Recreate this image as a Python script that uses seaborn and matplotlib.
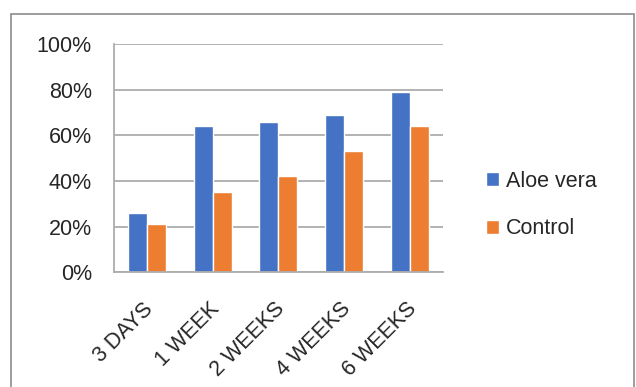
import numpy as np
import pandas as pd
import seaborn as sns
from matplotlib import pyplot as plt
from matplotlib.patches import Rectangle
from matplotlib.transforms import ScaledTranslation

periods = ["3 DAYS", "1 WEEK", "2 WEEKS", "4 WEEKS", "6 WEEKS"]
aloe_vera = [26, 64, 66, 69, 79]
control = [21, 35, 42, 53, 64]
series = ["Aloe vera", "Control"]
colors = ["#4472C4", "#ED7D31"]
yticks = [0, 20, 40, 60, 80, 100]

df = pd.DataFrame({
    "period": periods * 2,
    "value": aloe_vera + control,
    "group": [series[0]] * len(periods) + [series[1]] * len(periods),
})

sns.set_style("white")
plt.rcParams["font.family"] = ["Liberation Sans", "DejaVu Sans"]
grid_col = "#ADADAD"

fig = plt.figure(figsize=(6.36, 3.87), dpi=100)
ax = fig.add_axes([114 / 636, 1 - 272.3 / 387, (442.7 - 114) / 636, (272.3 - 44) / 387])

sns.barplot(data=df, x="period", y="value", hue="group", palette=colors,
            width=0.58, gap=0, saturation=1, ax=ax, legend=True)

ax.set_ylim(0, 100)
ax.set_xlim(-0.5, len(periods) - 0.5)
ax.set_yticks(yticks)
ax.set_yticklabels([f"{v}%" for v in yticks], fontsize=15.5, color="#262626")
ax.yaxis.grid(True, color=grid_col, linewidth=1.3)
ax.set_axisbelow(True)
ax.tick_params(axis="y", length=6, width=1.3, color=grid_col, pad=10)

# category boundary ticks like excel
ax.set_xticks(np.arange(len(periods)))
ax.set_xticklabels(periods, rotation=45, ha="right", rotation_mode="anchor",
                   fontsize=15.5, color="#262626")
ax.tick_params(axis="x", length=0, pad=19)
shift = ScaledTranslation(-4 / 100, 0, fig.dpi_scale_trans)
for lbl in ax.get_xticklabels():
    lbl.set_transform(lbl.get_transform() + shift)
ax.set_xticks(np.arange(-0.5, len(periods)), minor=True)
ax.tick_params(axis="x", which="minor", length=8, width=1.3, color=grid_col)
ax.set_xlabel("")
ax.set_ylabel("")

for s in ["top", "right"]:
    ax.spines[s].set_visible(False)
for s in ["left", "bottom"]:
    ax.spines[s].set_color(grid_col)
    ax.spines[s].set_linewidth(1.3)

handles, labels = ax.get_legend_handles_labels()
ax.get_legend().remove()
fig.legend(handles, labels, loc="center left", bbox_to_anchor=(485.7 / 636, 1 - 205 / 387),
           frameon=False, fontsize=15.5, handlelength=0.6, handleheight=0.6,
           handletextpad=0.35, labelspacing=1.25, borderpad=0, borderaxespad=0)

# outer chart border
fig.patches.append(Rectangle((11 / 636, -0.05), (634 - 11) / 636, 1.05 - 14 / 387,
                             transform=fig.transFigure, fill=False,
                             edgecolor="#8C8C8C", linewidth=1.2))

fig.savefig("out.png", dpi=100)
